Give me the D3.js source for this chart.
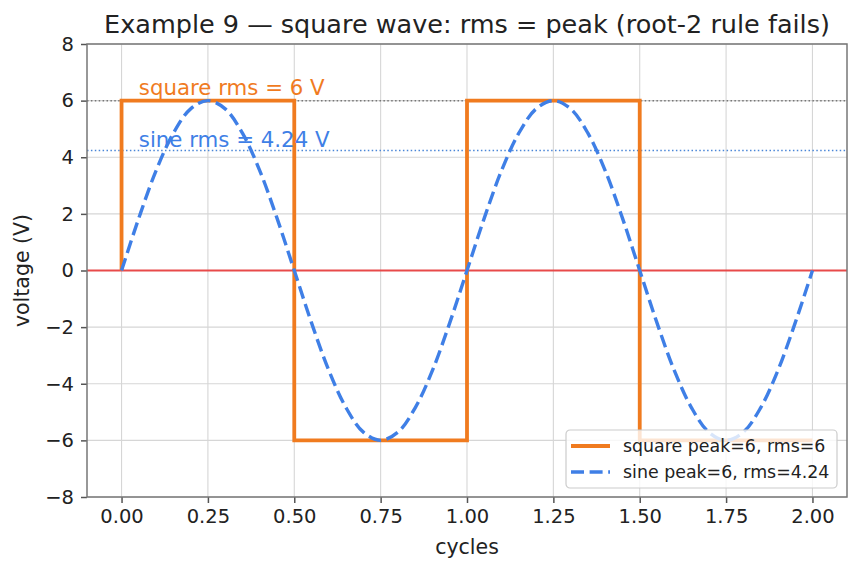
<!DOCTYPE html>
<html>
<head>
<meta charset="utf-8">
<script src="https://cdn.jsdelivr.net/npm/d3@7"></script>
<style>
  body { margin: 0; background: #fff; }
  text { font-family: "DejaVu Sans", sans-serif; }
</style>
</head>
<body>
<svg width="860" height="573"></svg>
<script>
// values
const squareX = [0, 0, 0.5, 0.5, 1.0, 1.0, 1.5, 1.5, 2.0];
const squareY = [0, 6, 6, -6, -6, 6, 6, -6, -6];

const sineX = [0, 0.05, 0.10, 0.15, 0.20, 0.25, 0.30, 0.35, 0.40, 0.45, 0.50,
  0.55, 0.60, 0.65, 0.70, 0.75, 0.80, 0.85, 0.90, 0.95, 1.00,
  1.05, 1.10, 1.15, 1.20, 1.25, 1.30, 1.35, 1.40, 1.45, 1.50,
  1.55, 1.60, 1.65, 1.70, 1.75, 1.80, 1.85, 1.90, 1.95, 2.00];
const sineY = [0, 1.85, 3.53, 4.85, 5.71, 6.0, 5.71, 4.85, 3.53, 1.85, 0,
  -1.85, -3.53, -4.85, -5.71, -6.0, -5.71, -4.85, -3.53, -1.85, 0,
  1.85, 3.53, 4.85, 5.71, 6.0, 5.71, 4.85, 3.53, 1.85, 0,
  -1.85, -3.53, -4.85, -5.71, -6.0, -5.71, -4.85, -3.53, -1.85, 0];

const xTicks = [0, 0.25, 0.5, 0.75, 1.0, 1.25, 1.5, 1.75, 2.0];
const yTicks = [-8, -6, -4, -2, 0, 2, 4, 6, 8];
const squareRms = 6;
const sineRms = 4.24;

const margin = { top: 44, right: 13, bottom: 76, left: 87 };
const width = 860 - margin.left - margin.right;
const height = 573 - margin.top - margin.bottom;

const svg = d3.select("svg");
const g = svg.append("g")
  .attr("transform", "translate(" + margin.left + "," + margin.top + ")");

const x = d3.scaleLinear().domain([-0.1, 2.1]).range([0, width]);
const y = d3.scaleLinear().domain([-8, 8]).range([height, 0]);

// grid
g.append("g").selectAll("line").data(xTicks).enter().append("line")
  .attr("x1", d => x(d)).attr("x2", d => x(d))
  .attr("y1", 0).attr("y2", height)
  .attr("stroke", "#d6d6d6").attr("stroke-width", 1.1);
g.append("g").selectAll("line").data(yTicks).enter().append("line")
  .attr("y1", d => y(d)).attr("y2", d => y(d))
  .attr("x1", 0).attr("x2", width)
  .attr("stroke", "#d6d6d6").attr("stroke-width", 1.1);

// reference lines
g.append("line")
  .attr("x1", 0).attr("x2", width)
  .attr("y1", y(0)).attr("y2", y(0))
  .attr("stroke", "#e84a4a").attr("stroke-width", 1.9);
g.append("line")
  .attr("x1", 0).attr("x2", width)
  .attr("y1", y(squareRms)).attr("y2", y(squareRms))
  .attr("stroke", "#777").attr("stroke-width", 1.5)
  .attr("stroke-dasharray", "1.5,2.4");
g.append("line")
  .attr("x1", 0).attr("x2", width)
  .attr("y1", y(sineRms)).attr("y2", y(sineRms))
  .attr("stroke", "#4a86d8").attr("stroke-width", 1.5)
  .attr("stroke-dasharray", "1.5,2.4");

// series
const line = d3.line().x(d => x(d[0])).y(d => y(d[1]));
g.append("path")
  .datum(squareX.map((v, i) => [v, squareY[i]]))
  .attr("d", line)
  .attr("fill", "none").attr("stroke", "#f07b1f").attr("stroke-width", 3.8);

const curve = d3.line().x(d => x(d[0])).y(d => y(d[1])).curve(d3.curveCatmullRom);
g.append("path")
  .datum(sineX.map((v, i) => [v, sineY[i]]))
  .attr("d", curve)
  .attr("fill", "none").attr("stroke", "#3f7fe6").attr("stroke-width", 3.4)
  .attr("stroke-dasharray", "13,5.6");

// annotations
g.append("text")
  .attr("x", x(0.05)).attr("y", y(squareRms) - 6)
  .attr("fill", "#f07b1f").attr("font-size", 21.3)
  .text("square rms = 6 V");
g.append("text")
  .attr("x", x(0.05)).attr("y", y(sineRms) - 3)
  .attr("fill", "#3f7fe6").attr("font-size", 21.3)
  .text("sine rms = 4.24 V");

// axes
const xAxis = g.append("g")
  .attr("transform", "translate(0," + height + ")")
  .call(d3.axisBottom(x).tickValues(xTicks).tickFormat(d3.format(".2f")).tickSize(6).tickPadding(6));
const yAxis = g.append("g")
  .call(d3.axisLeft(y).tickValues(yTicks).tickSize(6).tickPadding(7)
    .tickFormat(d => d < 0 ? "\u2212" + Math.abs(d) : d));
[xAxis, yAxis].forEach(a => {
  a.selectAll("text").attr("font-size", 19.5).attr("fill", "#222")
    .attr("font-family", "DejaVu Sans, sans-serif");
  a.selectAll("line").attr("stroke", "#555").attr("stroke-width", 1.5);
  a.select(".domain").remove();
});

// frame
g.append("rect")
  .attr("width", width).attr("height", height)
  .attr("fill", "none").attr("stroke", "#777").attr("stroke-width", 1.5);

// labels
svg.append("text")
  .attr("x", margin.left + width / 2).attr("y", 33)
  .attr("text-anchor", "middle").attr("font-size", 25.5).attr("fill", "#222")
  .text("Example 9 \u2014 square wave: rms = peak (root-2 rule fails)");
svg.append("text")
  .attr("x", margin.left + width / 2).attr("y", 554)
  .attr("text-anchor", "middle").attr("font-size", 20.5).attr("fill", "#222")
  .text("cycles");
svg.append("text")
  .attr("transform", "translate(29," + (margin.top + height / 2) + ") rotate(-90)")
  .attr("text-anchor", "middle").attr("font-size", 20.5).attr("fill", "#222")
  .text("voltage (V)");

// legend
const legendItems = [
  { label: "square peak=6, rms=6", color: "#f07b1f", dash: null, w: 3.8 },
  { label: "sine peak=6, rms=4.24", color: "#3f7fe6", dash: "13,5.6", w: 3.4 }
];
const lg = g.append("g").attr("transform", "translate(" + (566 - margin.left) + "," + (430 - margin.top) + ")");
lg.append("rect")
  .attr("width", 271).attr("height", 58).attr("rx", 4)
  .attr("fill", "#fff").attr("fill-opacity", 0.8)
  .attr("stroke", "#ccc").attr("stroke-width", 1.2);
legendItems.forEach((d, i) => {
  const yy = 16 + i * 26;
  lg.append("line")
    .attr("x1", 5).attr("x2", 44).attr("y1", yy).attr("y2", yy)
    .attr("stroke", d.color).attr("stroke-width", d.w)
    .attr("stroke-dasharray", d.dash);
  lg.append("text")
    .attr("x", 57).attr("y", yy + 6)
    .attr("font-size", 17.4).attr("fill", "#222")
    .text(d.label);
});
</script>
</body>
</html>
